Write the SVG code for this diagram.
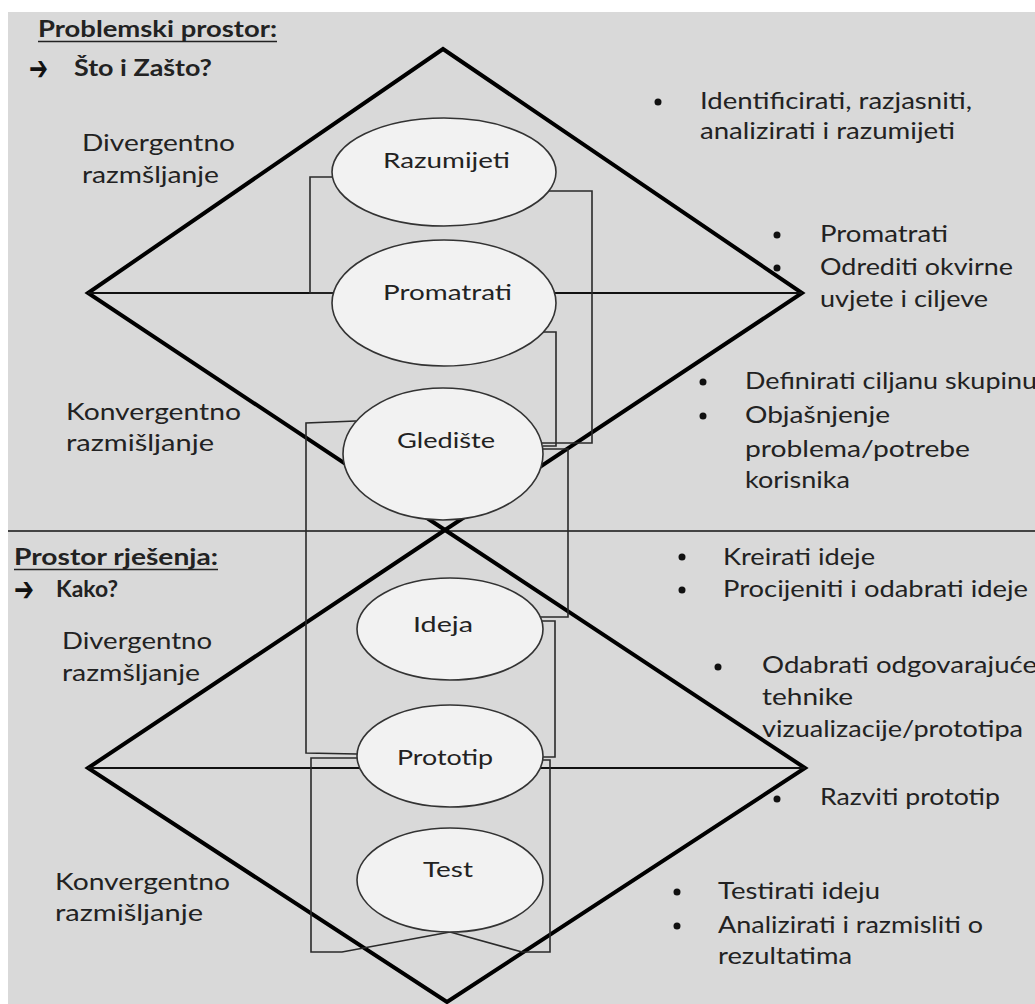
<svg xmlns="http://www.w3.org/2000/svg" width="1035" height="1004" viewBox="0 0 1035 1004">
<style>
.t{font-family:Lato,"Liberation Sans",sans-serif;font-size:23px;fill:#222}
.b{font-weight:bold}
.arr{font-family:"DejaVu Sans",sans-serif;font-size:34px;font-weight:bold;fill:#111}
.el{fill:#f2f2f2;stroke:#333;stroke-width:1.6}
.lab{font-family:Lato,"Liberation Sans",sans-serif;font-size:22px;fill:#222}
.dia{fill:none;stroke:#000;stroke-width:4;stroke-linejoin:miter}
.hl{stroke:#111;stroke-width:2}
.con{fill:none;stroke:#2a2a2a;stroke-width:1.6}
.bul{fill:#111}
.ul{stroke:#222;stroke-width:1.6}
</style>
<rect x="8" y="12" width="1027" height="992" fill="#d9d9d9"/>
<line x1="8" y1="531" x2="1035" y2="531" stroke="#444" stroke-width="2"/>
<g id="diamonds">
<polygon class="dia" points="443,49 802,293 445,530 88,293"/>
<polygon class="dia" points="445,530 805,768 447,1002 88,768"/>
<line class="hl" x1="88" y1="293" x2="802" y2="293"/>
<line class="hl" x1="88" y1="768" x2="805" y2="768"/>
</g>
<g id="connectors">
<path class="con" d="M333,177 L310,177 L310,293 L333,293"/>
<path class="con" d="M549,191 L592,191 L592,443 L542,443"/>
<path class="con" d="M543,332 L556,332 L556,446 L543,446"/>
<path class="con" d="M541,449 L568,449 L568,617 L540,617"/>
<path class="con" d="M541,621 L555,621 L555,757 L543,757"/>
<path class="con" d="M543,760 L550,760 L550,952 L522,952 L450,932"/>
<path class="con" d="M356,421 L306,423 L306,753 L357,754"/>
<path class="con" d="M357,758 L311,758 L311,952 L342,952 L450,932"/>
</g>
<g id="n-razumijeti"><ellipse class="el" cx="444" cy="172" rx="112" ry="54"/><text class="lab" x="383" y="168" textLength="127" lengthAdjust="spacingAndGlyphs">Razumijeti</text></g>
<g id="n-promatrati"><ellipse class="el" cx="444" cy="303" rx="112" ry="63"/><text class="lab" x="383" y="300" textLength="129" lengthAdjust="spacingAndGlyphs">Promatrati</text></g>
<g id="n-glediste"><ellipse class="el" cx="443" cy="454" rx="100" ry="66"/><text class="lab" x="397" y="448" textLength="98" lengthAdjust="spacingAndGlyphs">Gledište</text></g>
<g id="n-ideja"><ellipse class="el" cx="450" cy="629" rx="93" ry="51"/><text class="lab" x="413" y="632" textLength="60" lengthAdjust="spacingAndGlyphs">Ideja</text></g>
<g id="n-prototip"><ellipse class="el" cx="450" cy="756" rx="93" ry="51"/><text class="lab" x="397" y="765" textLength="96" lengthAdjust="spacingAndGlyphs">Prototip</text></g>
<g id="n-test"><ellipse class="el" cx="450" cy="880" rx="93" ry="52"/><text class="lab" x="423" y="877" textLength="50" lengthAdjust="spacingAndGlyphs">Test</text></g>
<g id="left-labels">
<text class="t b" x="38" y="37" textLength="239" lengthAdjust="spacingAndGlyphs">Problemski prostor:</text>
<line class="ul" x1="38" y1="41.5" x2="277" y2="41.5"/>
<text class="arr" x="29" y="80" textLength="19" lengthAdjust="spacingAndGlyphs">➔</text>
<text class="t b" x="74" y="76" textLength="138" lengthAdjust="spacingAndGlyphs">Što i Zašto?</text>
<text class="t" x="82" y="151" textLength="153" lengthAdjust="spacingAndGlyphs">Divergentno</text>
<text class="t" x="82" y="183" textLength="137" lengthAdjust="spacingAndGlyphs">razmšljanje</text>
<text class="t" x="66" y="420" textLength="175" lengthAdjust="spacingAndGlyphs">Konvergentno</text>
<text class="t" x="66" y="451" textLength="148" lengthAdjust="spacingAndGlyphs">razmišljanje</text>
<text class="t b" x="14" y="565" textLength="204" lengthAdjust="spacingAndGlyphs">Prostor rješenja:</text>
<line class="ul" x1="14" y1="569.5" x2="218" y2="569.5"/>
<text class="arr" x="14" y="601" textLength="20" lengthAdjust="spacingAndGlyphs">➔</text>
<text class="t b" x="56" y="597" textLength="62" lengthAdjust="spacingAndGlyphs">Kako?</text>
<text class="t" x="62" y="649" textLength="150" lengthAdjust="spacingAndGlyphs">Divergentno</text>
<text class="t" x="62" y="681" textLength="138" lengthAdjust="spacingAndGlyphs">razmšljanje</text>
<text class="t" x="55" y="890" textLength="175" lengthAdjust="spacingAndGlyphs">Konvergentno</text>
<text class="t" x="55" y="921" textLength="148" lengthAdjust="spacingAndGlyphs">razmišljanje</text>
</g>
<g id="right-notes">
<circle class="bul" cx="658" cy="102" r="3.5"/>
<text class="t" x="700" y="109" textLength="272" lengthAdjust="spacingAndGlyphs">Identificirati, razjasniti,</text>
<text class="t" x="700" y="139" textLength="255" lengthAdjust="spacingAndGlyphs">analizirati i razumijeti</text>
<circle class="bul" cx="777" cy="235" r="3.5"/>
<text class="t" x="820" y="242" textLength="128" lengthAdjust="spacingAndGlyphs">Promatrati</text>
<circle class="bul" cx="777" cy="268" r="3.5"/>
<text class="t" x="820" y="275" textLength="193" lengthAdjust="spacingAndGlyphs">Odrediti okvirne</text>
<text class="t" x="820" y="307" textLength="168" lengthAdjust="spacingAndGlyphs">uvjete i ciljeve</text>
<circle class="bul" cx="703" cy="382" r="3.5"/>
<text class="t" x="745" y="389" textLength="292" lengthAdjust="spacingAndGlyphs">Definirati ciljanu skupinu</text>
<circle class="bul" cx="703" cy="416" r="3.5"/>
<text class="t" x="745" y="423" textLength="145" lengthAdjust="spacingAndGlyphs">Objašnjenje</text>
<text class="t" x="745" y="457" textLength="225" lengthAdjust="spacingAndGlyphs">problema/potrebe</text>
<text class="t" x="745" y="488" textLength="105" lengthAdjust="spacingAndGlyphs">korisnika</text>
<circle class="bul" cx="682" cy="557" r="3.5"/>
<text class="t" x="723" y="565" textLength="152" lengthAdjust="spacingAndGlyphs">Kreirati ideje</text>
<circle class="bul" cx="682" cy="590" r="3.5"/>
<text class="t" x="723" y="597" textLength="305" lengthAdjust="spacingAndGlyphs">Procijeniti i odabrati ideje</text>
<circle class="bul" cx="718" cy="667" r="3.5"/>
<text class="t" x="762" y="673" textLength="275" lengthAdjust="spacingAndGlyphs">Odabrati odgovarajuće</text>
<text class="t" x="762" y="705" textLength="91" lengthAdjust="spacingAndGlyphs">tehnike</text>
<text class="t" x="762" y="737" textLength="261" lengthAdjust="spacingAndGlyphs">vizualizacije/prototipa</text>
<circle class="bul" cx="777" cy="799" r="3.5"/>
<text class="t" x="820" y="805" textLength="180" lengthAdjust="spacingAndGlyphs">Razviti prototip</text>
<circle class="bul" cx="677" cy="892" r="3.5"/>
<text class="t" x="718" y="899" textLength="162" lengthAdjust="spacingAndGlyphs">Testirati ideju</text>
<circle class="bul" cx="677" cy="926" r="3.5"/>
<text class="t" x="718" y="933" textLength="265" lengthAdjust="spacingAndGlyphs">Analizirati i razmisliti o</text>
<text class="t" x="718" y="964" textLength="134" lengthAdjust="spacingAndGlyphs">rezultatima</text>
</g>
</svg>
